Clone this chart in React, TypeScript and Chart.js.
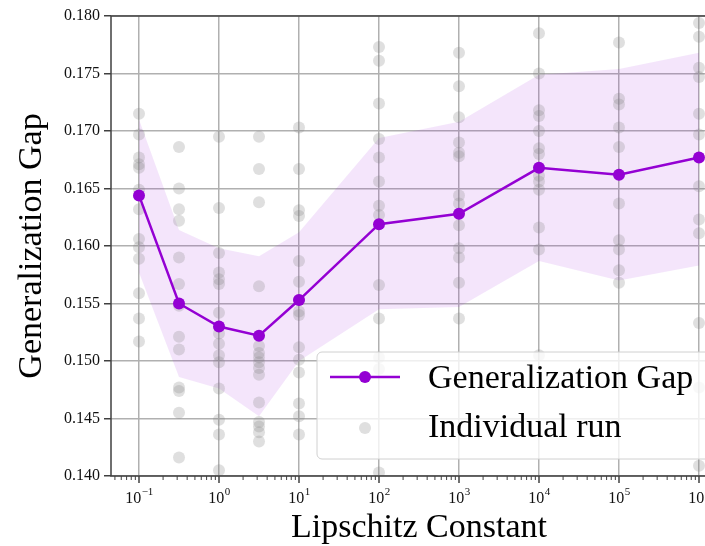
import React, { useEffect, useRef } from 'react';
import { Chart, registerables } from 'chart.js';

Chart.register(...registerables);

// Lipschitz constants (x positions)
const lipschitz = [0.1, 0.31623, 1, 3.1623, 10, 100, 1000, 10000, 100000, 1000000];

// Mean generalization gap
const meanGap = [0.1644, 0.155, 0.153, 0.1522, 0.1553, 0.1619, 0.1628, 0.1668, 0.1662, 0.1677];

// Shaded band (upper / lower bound)
const bandUpper = [0.171, 0.1614, 0.1598, 0.1591, 0.1612, 0.1694, 0.1708, 0.1749, 0.1754, 0.1768];
const bandLower = [0.1577, 0.1486, 0.1476, 0.1452, 0.15, 0.1545, 0.1547, 0.1587, 0.157, 0.1583];

// Individual runs per Lipschitz constant
const runsAt0_1 = [0.1715, 0.1697, 0.1677, 0.1671, 0.1668, 0.1649, 0.1632, 0.1606, 0.1599, 0.1589, 0.1559, 0.1537, 0.1517];
const runsAt0_32 = [0.1686, 0.165, 0.1632, 0.1622, 0.159, 0.1567, 0.1548, 0.1521, 0.151, 0.1477, 0.1474, 0.1455, 0.1416];
const runsAt1 = [0.1695, 0.1633, 0.1594, 0.1577, 0.1571, 0.1567, 0.1542, 0.1524, 0.1515, 0.1505, 0.1499, 0.1476, 0.1449, 0.1436, 0.1405];
const runsAt3_2 = [0.1695, 0.1667, 0.1638, 0.1565, 0.1513, 0.1507, 0.1503, 0.1499, 0.1494, 0.1488, 0.1464, 0.1447, 0.1443, 0.1438, 0.143];
const runsAt10 = [0.1703, 0.1667, 0.1631, 0.1626, 0.1587, 0.1569, 0.1553, 0.1543, 0.154, 0.1512, 0.1501, 0.149, 0.1463, 0.1452, 0.1436];
const runsAt1e2 = [0.1773, 0.1761, 0.1724, 0.1693, 0.1677, 0.1656, 0.1635, 0.1627, 0.1566, 0.1537, 0.1503, 0.1493, 0.1403];
const runsAt1e3 = [0.1768, 0.1739, 0.1712, 0.169, 0.1681, 0.1678, 0.1644, 0.1637, 0.1618, 0.1598, 0.159, 0.1568, 0.1537];
const runsAt1e4 = [0.1785, 0.175, 0.1718, 0.1713, 0.17, 0.1685, 0.168, 0.1661, 0.1656, 0.1649, 0.1616, 0.1597, 0.1505];
const runsAt1e5 = [0.1777, 0.1728, 0.1723, 0.1703, 0.1686, 0.1637, 0.1605, 0.1597, 0.1579, 0.1568];
const runsAt1e6 = [0.1794, 0.1782, 0.1755, 0.1747, 0.1715, 0.1697, 0.1652, 0.1623, 0.1611, 0.1533, 0.1477, 0.1409];

const individualRuns = [runsAt0_1, runsAt0_32, runsAt1, runsAt3_2, runsAt10, runsAt1e2, runsAt1e3, runsAt1e4, runsAt1e5, runsAt1e6];

// Axis settings
const yTicksStep = 0.005;
const yMin = 0.14;
const yMax = 0.18;
const xMinExp = -1.35;
const xMaxExp = 6.35;

const PURPLE = '#9400D3';
const BAND = 'rgba(148,0,211,0.1)';
const RUN = 'rgba(128,128,128,0.25)';
const GRID = '#b0b0b0';
const SPINE = '#404040';
const FONT = "'Liberation Serif', 'Times New Roman', serif";

const isMajor = (v: number) => {
  const l = Math.log10(v);
  return Math.abs(l - Math.round(l)) < 1e-6;
};

export default function App() {
  const ref = useRef<HTMLCanvasElement>(null);

  useEffect(() => {
    const canvas = ref.current;
    if (!canvas) return;

    const xMin = Math.pow(10, xMinExp);
    const xMax = Math.pow(10, xMaxExp);
    const xTickValues: number[] = [];
    for (let e = -2; e <= 7; e++) {
      for (let k = 1; k <= 9; k++) {
        const v = Number((k * Math.pow(10, e)).toPrecision(12));
        if (v >= xMin && v <= xMax) xTickValues.push(v);
      }
    }

    const runPoints = individualRuns.flatMap((arr, i) => arr.map((y) => ({ x: lipschitz[i], y })));

    const decor = {
      id: 'decor',
      afterDatasetsDraw(chart: any) {
        const { ctx, chartArea: a, scales } = chart;
        const xs = scales.x;
        ctx.save();
        // spines
        ctx.strokeStyle = SPINE;
        ctx.lineWidth = 1.5;
        ctx.strokeRect(a.left, a.top, a.right - a.left, a.bottom - a.top);
        // x ticks + labels
        xs.ticks.forEach((t: any) => {
          const px = xs.getPixelForValue(t.value);
          const maj = isMajor(t.value);
          ctx.strokeStyle = SPINE;
          ctx.lineWidth = maj ? 1.5 : 1;
          ctx.beginPath();
          ctx.moveTo(px, a.bottom);
          ctx.lineTo(px, a.bottom + (maj ? 7 : 4));
          ctx.stroke();
          if (maj) {
            const e = Math.round(Math.log10(t.value));
            const base = '10';
            const sup = e < 0 ? '\u2212' + Math.abs(e) : String(e);
            ctx.font = `16px ${FONT}`;
            const wb = ctx.measureText(base).width;
            ctx.font = `11px ${FONT}`;
            const ws = ctx.measureText(sup).width;
            const start = px - (wb + ws) / 2;
            ctx.fillStyle = '#111';
            ctx.textAlign = 'left';
            ctx.textBaseline = 'alphabetic';
            ctx.font = `16px ${FONT}`;
            ctx.fillText(base, start, a.bottom + 27);
            ctx.font = `11px ${FONT}`;
            ctx.fillText(sup, start + wb + 0.5, a.bottom + 19);
          }
        });
        // legend
        const lx = a.left + 206;
        const ly = a.bottom - 124;
        const lw = a.right - 8 - lx;
        const lh = 107;
        const r = 5;
        ctx.beginPath();
        ctx.moveTo(lx + r, ly);
        ctx.lineTo(lx + lw - r, ly);
        ctx.arcTo(lx + lw, ly, lx + lw, ly + r, r);
        ctx.lineTo(lx + lw, ly + lh - r);
        ctx.arcTo(lx + lw, ly + lh, lx + lw - r, ly + lh, r);
        ctx.lineTo(lx + r, ly + lh);
        ctx.arcTo(lx, ly + lh, lx, ly + lh - r, r);
        ctx.lineTo(lx, ly + r);
        ctx.arcTo(lx, ly, lx + r, ly, r);
        ctx.closePath();
        ctx.fillStyle = 'rgba(255,255,255,0.8)';
        ctx.fill();
        ctx.strokeStyle = '#d0d0d0';
        ctx.lineWidth = 1;
        ctx.stroke();

        const ds = chart.data.datasets;
        // row 1
        const r1y = ly + 25;
        ctx.strokeStyle = PURPLE;
        ctx.lineWidth = 2.5;
        ctx.beginPath();
        ctx.moveTo(lx + 13, r1y);
        ctx.lineTo(lx + 83, r1y);
        ctx.stroke();
        ctx.fillStyle = PURPLE;
        ctx.beginPath();
        ctx.arc(lx + 48, r1y, 6, 0, Math.PI * 2);
        ctx.fill();
        ctx.fillStyle = '#000';
        ctx.font = `34px ${FONT}`;
        ctx.textAlign = 'left';
        ctx.textBaseline = 'alphabetic';
        ctx.fillText(ds[0].label, lx + 111, ly + 36);
        // row 2
        const r2y = ly + 76;
        ctx.fillStyle = RUN;
        ctx.beginPath();
        ctx.arc(lx + 48, r2y, 6, 0, Math.PI * 2);
        ctx.fill();
        ctx.fillStyle = '#000';
        ctx.fillText(ds[1].label, lx + 111, ly + 85);
        ctx.restore();
      },
    };

    const chart = new Chart(canvas, {
      type: 'line',
      data: {
        datasets: [
          {
            label: 'Generalization Gap',
            data: lipschitz.map((x, i) => ({ x, y: meanGap[i] })),
            borderColor: PURPLE,
            backgroundColor: PURPLE,
            borderWidth: 2.5,
            pointRadius: 6,
            pointBackgroundColor: PURPLE,
            pointBorderWidth: 0,
            tension: 0,
            fill: false,
            order: 0,
          },
          {
            label: 'Individual run',
            data: runPoints,
            showLine: false,
            pointRadius: 6,
            pointBackgroundColor: RUN,
            pointBorderColor: 'transparent',
            pointBorderWidth: 0,
            borderColor: 'transparent',
            fill: false,
            order: 1,
          },
          {
            label: 'upper',
            data: lipschitz.map((x, i) => ({ x, y: bandUpper[i] })),
            borderColor: 'transparent',
            backgroundColor: BAND,
            pointRadius: 0,
            fill: '+1',
            tension: 0,
            order: 2,
          },
          {
            label: 'lower',
            data: lipschitz.map((x, i) => ({ x, y: bandLower[i] })),
            borderColor: 'transparent',
            pointRadius: 0,
            fill: false,
            tension: 0,
            order: 3,
          },
        ],
      },
      options: {
        animation: false,
        responsive: false,
        devicePixelRatio: 1,
        layout: { padding: { top: 16, right: 13, left: 0, bottom: 0 } },
        plugins: { legend: { display: false }, tooltip: { enabled: false } },
        scales: {
          x: {
            type: 'logarithmic',
            min: xMin,
            max: xMax,
            afterBuildTicks: (scale: any) => {
              scale.ticks = xTickValues.map((v) => ({ value: v }));
            },
            afterFit: (scale: any) => {
              scale.height = 70;
            },
            ticks: { display: false },
            grid: {
              color: (c: any) => (c.tick && isMajor(c.tick.value) ? GRID : 'rgba(0,0,0,0)'),
              lineWidth: 1.5,
              drawTicks: false,
            },
            border: { display: false },
            title: {
              display: true,
              text: 'Lipschitz Constant',
              color: '#000',
              font: { family: FONT, size: 34, lineHeight: 1 },
              padding: { top: 0, bottom: 1 },
            },
          },
          y: {
            type: 'linear',
            min: yMin,
            max: yMax,
            afterFit: (scale: any) => {
              scale.width = 111;
            },
            ticks: {
              stepSize: yTicksStep,
              callback: (v: any) => Number(v).toFixed(3),
              color: '#111',
              font: { family: FONT, size: 16 },
              padding: 4,
            },
            grid: {
              color: GRID,
              lineWidth: 1.5,
              tickColor: SPINE,
              tickLength: 7,
              tickWidth: 1.5,
            },
            border: { display: false },
            title: {
              display: true,
              text: 'Generalization Gap',
              color: '#000',
              font: { family: FONT, size: 34 },
              padding: { top: 12, bottom: 0 },
            },
          },
        },
      },
      plugins: [decor],
    } as any);

    return () => chart.destroy();
  }, []);

  return (
    <div style={{ position: 'fixed', left: 0, top: 0, width: 705, height: 546, overflow: 'hidden', background: '#fff' }}>
      <canvas ref={ref} width={740} height={546} style={{ display: 'block' }} />
    </div>
  );
}
